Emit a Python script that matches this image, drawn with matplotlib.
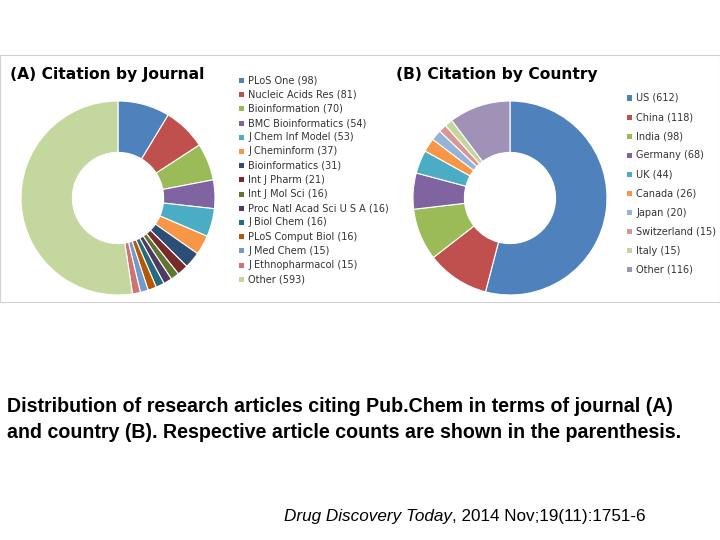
import matplotlib
matplotlib.use("Agg")
import matplotlib.pyplot as plt
from matplotlib.patches import Rectangle

journals = ["PLoS One", "Nucleic Acids Res", "Bioinformation", "BMC Bioinformatics", "J Chem Inf Model",
            "J Cheminform", "Bioinformatics", "Int J Pharm", "Int J Mol Sci", "Proc Natl Acad Sci U S A",
            "J Biol Chem", "PLoS Comput Biol", "J Med Chem", "J Ethnopharmacol", "Other"]
journal_counts = [98, 81, 70, 54, 53, 37, 31, 21, 16, 16, 16, 16, 15, 15, 593]
countries = ["US", "China", "India", "Germany", "UK", "Canada", "Japan", "Switzerland", "Italy", "Other"]
country_counts = [612, 118, 98, 68, 44, 26, 20, 15, 15, 116]

jcolors = ["#4F81BD", "#C0504D", "#9BBB59", "#8064A2", "#4BACC6", "#F79646", "#2C4D75", "#772C2A",
           "#5F7530", "#4D3B62", "#276A7C", "#B65708", "#729ACA", "#CD7371", "#C4D79F"]
ccolors = ["#4F81BD", "#C0504D", "#9BBB59", "#8064A2", "#4BACC6", "#F79646", "#95B3D7", "#D99694",
           "#C3D69B", "#A092B7"]

W, H = 720, 540
fig = plt.figure(figsize=(7.2, 5.4), dpi=100)

def px_axes(cx, cy, r):
    return fig.add_axes([(cx - r) / W, 1 - (cy + r) / H, 2 * r / W, 2 * r / H])

fig.add_artist(Rectangle((0, 1 - 302 / H), 1, (302 - 55) / H, transform=fig.transFigure,
                         fill=False, edgecolor="#d0d0d0", lw=0.8))

for cx, vals, cols in [(118, journal_counts, jcolors), (510, country_counts, ccolors)]:
    ax = px_axes(cx, 198, 97)
    ax.pie(vals, colors=cols, startangle=90, counterclock=False,
           wedgeprops=dict(width=0.53, edgecolor="white", linewidth=0.8), radius=1)
    ax.set_xlim(-1, 1); ax.set_ylim(-1, 1)
    ax.set_aspect("equal")

fig.text(10 / W, 1 - 75 / H, "(A) Citation by Journal", fontsize=11.2, fontweight="bold", va="center")
fig.text(396 / W, 1 - 75 / H, "(B) Citation by Country", fontsize=11.2, fontweight="bold", va="center")

def legend(x, y0, dy, names, counts, cols):
    for i, (n, c, col) in enumerate(zip(names, counts, cols)):
        y = 1 - (y0 + i * dy) / H
        fig.add_artist(Rectangle((x / W, y - 2.5 / H), 5 / W, 5 / H, transform=fig.transFigure,
                                 facecolor=col, edgecolor="none"))
        fig.text((x + 9) / W, y, f"{n} ({c})", fontsize=7, va="center", color="#333333")

legend(239, 80.5, 14.2, journals, journal_counts, jcolors)
legend(627, 98, 19.1, countries, country_counts, ccolors)

fig.text(7 / W, 1 - 406 / H, "Distribution of research articles citing Pub.Chem in terms of journal (A)",
         fontsize=14.1, fontweight="bold", family="Liberation Sans", va="center")
fig.text(7 / W, 1 - 432 / H, "and country (B). Respective article counts are shown in the parenthesis.",
         fontsize=14.1, fontweight="bold", family="Liberation Sans", va="center")
t1 = fig.text(284 / W, 1 - 517 / H, "Drug Discovery Today", fontsize=12.3, style="italic",
              family="Liberation Sans", va="center")
r = fig.canvas.get_renderer()
bb = t1.get_window_extent(r)
fig.text(bb.x1 / W, 1 - 517 / H, ", 2014 Nov;19(11):1751-6", fontsize=12.3,
         family="Liberation Sans", va="center")

fig.savefig("out.png", dpi=100)
